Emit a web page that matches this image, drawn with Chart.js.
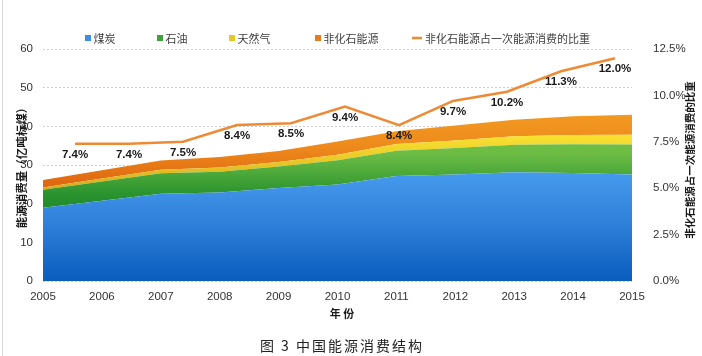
<!DOCTYPE html>
<html><head><meta charset="utf-8">
<script src="https://cdn.jsdelivr.net/npm/chart.js@4.4.0/dist/chart.umd.min.js"></script>
<style>
html,body{margin:0;padding:0;background:#fff;}
#wrap{position:relative;width:702px;height:356px;overflow:hidden;}
#edge{position:absolute;left:2px;top:0;width:1px;height:356px;background:#d9d9d9;}
canvas{position:absolute;left:0;top:0;}
</style></head><body>
<div id="wrap"><canvas id="c" width="702" height="356"></canvas><div id="edge"></div></div>
<script>
// ---- data (亿吨标煤 / %) ----
const years = ['2005','2006','2007','2008','2009','2010','2011','2012','2013','2014','2015'];
const coal = [18.92, 20.74, 22.58, 22.92, 24.07, 24.96, 27.17, 27.55, 28.10, 27.93, 27.52];
const oil = [4.65, 5.01, 5.29, 5.35, 5.51, 6.28, 6.50, 6.84, 7.13, 7.41, 7.78];
const gas = [0.63, 0.77, 0.93, 1.09, 1.18, 1.44, 1.78, 1.93, 2.21, 2.43, 2.54];
const nonFossil = [1.93, 2.12, 2.34, 2.69, 2.86, 3.39, 3.25, 3.90, 4.25, 4.81, 5.16];
const nonFossilShare = [7.4, 7.4, 7.5, 8.4, 8.5, 9.4, 8.4, 9.7, 10.2, 11.3, 12.0];
const seriesNames = ['煤炭', '石油', '天然气', '非化石能源', '非化石能源占一次能源消费的比重'];
const leftAxisTitle = '能源消费量（亿吨标煤）';
const rightAxisTitle = '非化石能源占一次能源消费的比重';
const xAxisTitle = '年 份';
const caption = '图 3 中国能源消费结构';

const NUM_FONT = '"Liberation Sans", Arial, sans-serif';
const CJK_FONT = '"Noto Sans CJK SC", "Noto Sans", sans-serif';

function grad(stops, solid) {
  return (ctx) => {
    const ch = ctx.chart, a = ch.chartArea;
    if (!a) return solid;
    const g = ch.ctx.createLinearGradient(0, a.top, 0, a.bottom);
    stops.forEach(s => g.addColorStop(s[0], s[1]));
    return g;
  };
}
const blueFill = grad([[0,'#62b3f8'],[0.5,'#4a9ff0'],[0.75,'#2f80d9'],[1,'#0a5cbd']], '#3a8ee6');
const greenFill = grad([[0,'#7ccb50'],[0.45,'#6dbd45'],[0.62,'#2c942f'],[0.72,'#1a8529'],[1,'#1a8529']], '#3da23a');
const yellowFill = grad([[0,'#fae433'],[0.38,'#f8e030'],[0.6,'#d9ab1e'],[1,'#d9ab1e']], '#e8c820');
const orangeFill = grad([[0,'#f39d24'],[0.28,'#f29a22'],[0.42,'#ee8a1c'],[0.58,'#df6810'],[1,'#df6810']], '#e87b1c');
const lineColor = '#ee8a34';

const legendColors = ['#3a8ee6', '#3da23a', '#e8c820', '#e87b1c'];

const labelPlugin = {
  id: 'pctLabels',
  afterDatasetsDraw(chart) {
    const meta = chart.getDatasetMeta(4);
    const c = chart.ctx;
    c.save();
    c.font = 'bold 11.5px ' + NUM_FONT;
    c.fillStyle = '#1a1a1a';
    c.textAlign = 'center';
    c.textBaseline = 'middle';
    meta.data.forEach((pt, i) => {
      c.fillText(nonFossilShare[i].toFixed(1) + '%', pt.x, pt.y + 11);
    });
    c.restore();
  }
};

const textPlugin = {
  id: 'texts',
  afterDraw(chart) {
    const c = chart.ctx;
    const a = chart.chartArea;
    c.save();
    // legend
    const sq = [85, 157, 229, 315];
    c.font = '11px ' + CJK_FONT;
    c.textBaseline = 'middle';
    c.textAlign = 'left';
    for (let i = 0; i < 4; i++) {
      c.fillStyle = legendColors[i];
      c.fillRect(sq[i], 35, 6, 6);
      c.fillStyle = '#404040';
      c.fillText(seriesNames[i], sq[i] + 8.5, 39);
    }
    c.strokeStyle = lineColor;
    c.lineWidth = 2.5;
    c.beginPath(); c.moveTo(412, 38); c.lineTo(422, 38); c.stroke();
    c.fillStyle = '#404040';
    c.fillText(seriesNames[4], 425, 39);

    // left axis title
    c.fillStyle = '#1a1a1a';
    c.font = 'bold 11.5px ' + CJK_FONT;
    c.textAlign = 'center';
    c.save();
    c.translate(22, (a.top + a.bottom) / 2);
    c.rotate(-Math.PI / 2);
    c.fillText(leftAxisTitle, 0, 0);
    c.restore();
    // right axis title
    c.font = 'bold 10.5px ' + CJK_FONT;
    c.save();
    c.translate(690, 160);
    c.rotate(-Math.PI / 2);
    c.fillText(rightAxisTitle, 0, 0);
    c.restore();
    // x title
    c.font = 'bold 11px ' + CJK_FONT;
    c.fillText(xAxisTitle, 342, 314);
    // caption
    c.font = '14px ' + CJK_FONT;
    c.fillStyle = '#222';
    try { c.letterSpacing = '2px'; } catch (e) {}
    c.fillText(caption, 342, 346);
    c.restore();
  }
};

new Chart(document.getElementById('c'), {
  type: 'line',
  data: {
    labels: years,
    datasets: [
      { label: seriesNames[0], data: coal, backgroundColor: blueFill, fill: 'origin', borderWidth: 0, pointRadius: 0, yAxisID: 'y', xAxisID: 'x' },
      { label: seriesNames[1], data: oil, backgroundColor: greenFill, fill: '-1', borderWidth: 0, pointRadius: 0, yAxisID: 'y', xAxisID: 'x' },
      { label: seriesNames[2], data: gas, backgroundColor: yellowFill, fill: '-1', borderWidth: 0, pointRadius: 0, yAxisID: 'y', xAxisID: 'x' },
      { label: seriesNames[3], data: nonFossil, backgroundColor: orangeFill, fill: '-1', borderWidth: 0, pointRadius: 0, yAxisID: 'y', xAxisID: 'x' },
      { label: seriesNames[4], data: years.map((y, i) => ({ x: +y, y: nonFossilShare[i] })), borderColor: lineColor, borderWidth: 2.5, fill: false, pointRadius: 0, tension: 0, yAxisID: 'y1', xAxisID: 'x2', order: -1 }
    ]
  },
  options: {
    responsive: false,
    devicePixelRatio: 1,
    animation: false,
    layout: { padding: { top: 49, left: 0, right: 0, bottom: 0 } },
    plugins: { legend: { display: false }, tooltip: { enabled: false } },
    scales: {
      x: {
        type: 'category',
        offset: false,
        grid: { display: false, drawTicks: false },
        border: { display: false },
        ticks: { color: '#333', font: { family: NUM_FONT, size: 11.5 }, padding: 9, maxRotation: 0, autoSkip: false },
        afterFit(s) { s.height = 75; }
      },
      x2: {
        type: 'linear',
        display: false,
        min: 2004.407,
        max: 2015.315
      },
      y: {
        type: 'linear',
        position: 'left',
        stacked: true,
        min: 0, max: 60,
        ticks: { stepSize: 10, color: '#333', font: { family: NUM_FONT, size: 11.5 }, padding: 10 },
        grid: { color: '#cfcfcf', drawTicks: false, lineWidth: 1 },
        border: { display: false, dash: [2, 2] },
        afterFit(s) { s.width = 43; }
      },
      y1: {
        type: 'linear',
        position: 'right',
        min: 0, max: 12.5,
        ticks: { stepSize: 2.5, color: '#333', font: { family: NUM_FONT, size: 11.5 }, padding: 21, callback: v => v.toFixed(1) + '%' },
        grid: { display: false, drawTicks: false },
        border: { display: false },
        afterFit(s) { s.width = 70; }
      }
    }
  },
  plugins: [labelPlugin, textPlugin]
});
</script>
</body></html>
